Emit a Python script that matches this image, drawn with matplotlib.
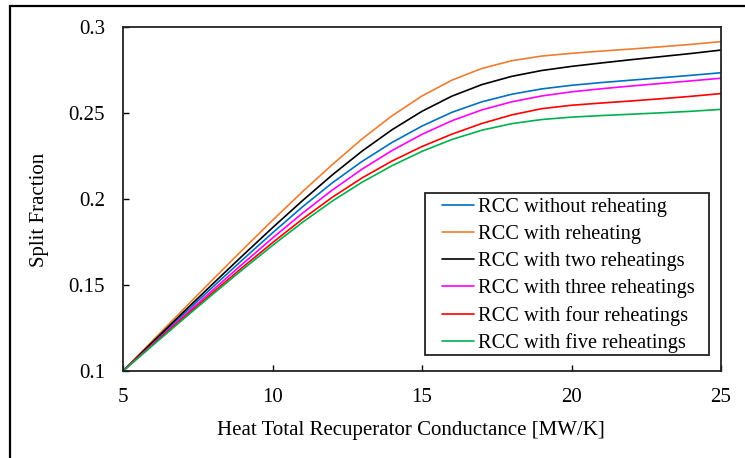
import matplotlib
matplotlib.use("Agg")
import matplotlib.pyplot as plt
from matplotlib.patches import Rectangle
from matplotlib.lines import Line2D
from matplotlib.legend_handler import HandlerLine2D
from matplotlib.ticker import FuncFormatter

x = [5, 6, 7, 8, 9, 10, 11, 12, 13, 14, 15, 16, 17, 18, 19, 20, 21, 22, 23, 24, 25]

rcc_no_reheat = [0.1000, 0.1164, 0.1327, 0.1488, 0.1647, 0.1803, 0.1954, 0.2094, 0.2219, 0.2329, 0.2424,
                 0.2504, 0.2565, 0.2609, 0.2640, 0.2661, 0.2677, 0.2691, 0.2705, 0.2719, 0.2734]
rcc_reheat = [0.1000, 0.1178, 0.1355, 0.1531, 0.1705, 0.1876, 0.2042, 0.2200, 0.2350, 0.2484, 0.2599,
              0.2691, 0.2759, 0.2804, 0.2831, 0.2847, 0.2860, 0.2872, 0.2885, 0.2899, 0.2915]
rcc_two = [0.1000, 0.1170, 0.1339, 0.1506, 0.1671, 0.1833, 0.1990, 0.2140, 0.2279, 0.2403, 0.2510,
           0.2598, 0.2665, 0.2713, 0.2747, 0.2771, 0.2791, 0.2810, 0.2828, 0.2846, 0.2866]
rcc_three = [0.1000, 0.1158, 0.1315, 0.1470, 0.1623, 0.1773, 0.1917, 0.2052, 0.2174, 0.2282, 0.2376,
             0.2455, 0.2518, 0.2565, 0.2599, 0.2623, 0.2641, 0.2657, 0.2672, 0.2687, 0.2702]
rcc_four = [0.1000, 0.1154, 0.1306, 0.1456, 0.1603, 0.1746, 0.1883, 0.2010, 0.2123, 0.2221, 0.2305,
            0.2377, 0.2439, 0.2489, 0.2525, 0.2545, 0.2558, 0.2570, 0.2583, 0.2597, 0.2613]
rcc_five = [0.1000, 0.1150, 0.1299, 0.1446, 0.1590, 0.1730, 0.1864, 0.1988, 0.2098, 0.2194, 0.2277,
            0.2346, 0.2400, 0.2438, 0.2462, 0.2476, 0.2485, 0.2493, 0.2501, 0.2510, 0.2521]

labels = ["RCC without reheating", "RCC with reheating", "RCC with two reheatings",
          "RCC with three reheatings", "RCC with four reheatings", "RCC with five reheatings"]
colors = ["#0070C0", "#ED7D31", "#000000", "#FF00FF", "#FF0000", "#00B050"]
series = [rcc_no_reheat, rcc_reheat, rcc_two, rcc_three, rcc_four, rcc_five]

xticks = [5, 10, 15, 20, 25]
yticks = [0.1, 0.15, 0.2, 0.25, 0.3]

plt.rcParams['font.family'] = ['Liberation Serif', 'DejaVu Serif']

FS = 15
W, H = 745, 458

fig = plt.figure(figsize=(7.45, 4.58), dpi=100)
ax = fig.add_axes([123/W, 1 - 371/H, (721-123)/W, (371-27)/H])

for y, c, lab in zip(series, colors, labels):
    ax.plot(x, y, color=c, lw=1.2, label=lab, solid_capstyle='round', solid_joinstyle='round')

ax.set_xlim(5, 25)
ax.set_ylim(0.1, 0.3)
ax.set_xticks(xticks)
ax.set_yticks(yticks)
ax.yaxis.set_major_formatter(FuncFormatter(lambda v, p: f"{v:g}"))
ax.tick_params(direction='in', length=4, width=1, labelsize=FS)
ax.tick_params(axis='y', pad=13)
ax.tick_params(axis='x', pad=12)
for s in ax.spines.values():
    s.set_linewidth(1.3)
    s.set_color('#222222')

ax.set_xlabel("Heat Total Recuperator Conductance [MW/K]", fontsize=FS, labelpad=10)
ax.set_ylabel("Split Fraction", fontsize=FS, labelpad=14)
ax.xaxis.label.set_x((411 - 123) / 598)
ax.yaxis.label.set_y((371 - 210) / 344)

# legend box (frame drawn separately to match the asymmetric padding)
ax.add_patch(Rectangle((425/W, 1 - 355/H), (709-425)/W, (355-193)/H, transform=fig.transFigure,
                       facecolor='white', edgecolor='#222222', lw=1.3, zorder=4))
leg = ax.legend(loc='lower right', bbox_to_anchor=(701/W, 1 - 359.5/H), bbox_transform=fig.transFigure,
                fontsize=14.7, frameon=False, handlelength=2.07, handletextpad=0.2, labelspacing=0.38,
                borderpad=0.3, borderaxespad=0,
                handler_map={Line2D: HandlerLine2D(xpad=0.49)})
leg.set_zorder(5)

fig.patches.append(Rectangle((10/W, -0.1), 1.2, 0.1 + (H-6)/H, transform=fig.transFigure,
                             fill=False, edgecolor='black', lw=1.6))

fig.savefig("out.png", dpi=100)
